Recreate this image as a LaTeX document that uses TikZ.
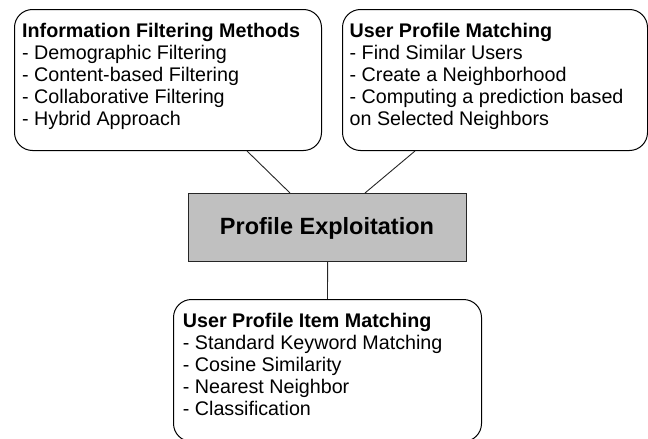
\documentclass[tikz,border=0pt]{standalone}
\usepackage{fontspec}
\setmainfont{Liberation Sans}
\begin{document}
\begin{tikzpicture}[x=1pt,y=-1pt,
  rbox/.style={draw=black,line width=1pt,rounded corners=18pt,fill=white,inner sep=0pt,anchor=north west},
  cbox/.style={draw=black!85,line width=1.2pt,fill={rgb,255:red,192;green,192;blue,192},inner sep=0pt,anchor=north west},
  btext/.style={anchor=base west,inner sep=0pt,align=left,font=\fontsize{19.7}{22}\selectfont},
  conn/.style={draw=black!85,line width=0.9pt}]
\useasboundingbox (0,0) rectangle (648,439);
% boxes
\node[rbox,minimum width=307pt,minimum height=141pt] (b1) at (14,9) {};
\node[rbox,minimum width=305pt,minimum height=141pt] (b2) at (342,9) {};
\node[cbox,minimum width=278pt,minimum height=68pt] (c) at (188,193) {};
\node[rbox,minimum width=308pt,minimum height=142pt] (b3) at (173,299) {};
% texts (anchor = baseline of last line)
\node[btext] (t1) at (22,125.7) {\textbf{Information Filtering Methods}\\- Demographic Filtering\\- Content-based Filtering\\- Collaborative Filtering\\- Hybrid Approach};
\node[btext] (t2) at (349.5,125.7) {\textbf{User Profile Matching}\\- Find Similar Users\\- Create a Neighborhood\\- Computing a prediction based\\on Selected Neighbors};
\node[btext] (t3) at (182.7,415.7) {\textbf{User Profile Item Matching}\\- Standard Keyword Matching\\- Cosine Similarity\\- Nearest Neighbor\\- Classification};
\node[anchor=base,inner sep=0pt,font=\fontsize{23.5}{26}\selectfont\bfseries] (ct) at (327,234) {Profile Exploitation};
% connectors
\draw[conn] ([xshift=233pt]b1.south west) -- ([xshift=102pt]c.north west);
\draw[conn] ([xshift=73pt]b2.south west) -- ([xshift=177pt]c.north west);
\draw[conn] (c.south) -- (b3.north);
\end{tikzpicture}
\end{document}
